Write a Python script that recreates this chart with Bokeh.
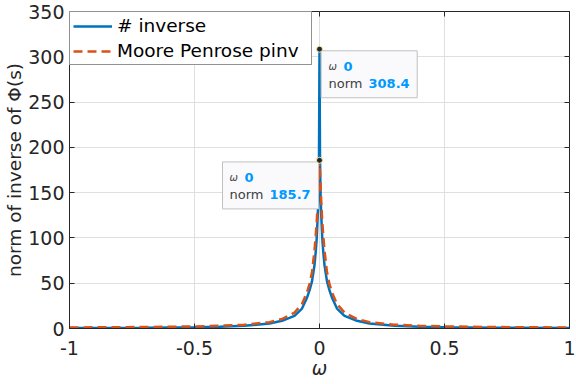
from bokeh.plotting import figure
from bokeh.models import FixedTicker, LinearAxis, Label, Legend, LegendItem, Range1d
from bokeh.embed import file_html
from bokeh.resources import INLINE

# ---------------- data ----------------
omega = [-1.0, -0.7, -0.5, -0.4, -0.3, -0.2, -0.15, -0.1, -0.07, -0.05, -0.04, -0.03,
         -0.02, -0.015, -0.011, -0.007, -0.004, -0.002, 0.0,
         0.002, 0.004, 0.007, 0.011, 0.015, 0.02, 0.03, 0.04, 0.05, 0.07, 0.1,
         0.15, 0.2, 0.3, 0.4, 0.5, 0.7, 1.0]
norm_inverse = [0.5, 0.9, 1.5, 2.0, 3.0, 5.5, 8.5, 14.0, 22.0, 34.0, 42.0, 52.0,
                70.0, 85.0, 100.0, 125.0, 150.0, 190.0, 308.4,
                190.0, 150.0, 125.0, 100.0, 85.0, 70.0, 52.0, 42.0, 34.0, 22.0, 14.0,
                8.5, 5.5, 3.0, 2.0, 1.5, 0.9, 0.5]
norm_pinv = [1.1, 1.6, 2.3, 3.0, 4.2, 7.0, 10.5, 17.5, 27.0, 40.0, 49.0, 62.0,
             86.0, 103.0, 118.0, 140.0, 160.0, 172.0, 185.7,
             172.0, 160.0, 140.0, 118.0, 103.0, 86.0, 62.0, 49.0, 40.0, 27.0, 17.5,
             10.5, 7.0, 4.2, 3.0, 2.3, 1.6, 1.1]
series_labels = ["# inverse", "Moore Penrose pinv"]
x_ticks = [-1, -0.5, 0, 0.5, 1]
x_tick_labels = ["-1", "-0.5", "0", "0.5", "1"]
y_ticks = [0, 50, 100, 150, 200, 250, 300, 350]
y_tick_labels = ["0", "50", "100", "150", "200", "250", "300", "350"]
x_label = "ω"
y_label = "norm of inverse of Φ(s)"

# ---------------- styling ----------------
FONT = "DejaVu Sans"
INK = "#262626"
BLUE = "#0072BD"
ORANGE = "#D95319"
FRAME_W, FRAME_H = 500, 317
X0, X1, Y0, Y1 = -1, 1, 0, 350
px_x = FRAME_W / (X1 - X0)
px_y = FRAME_H / (Y1 - Y0)

p = figure(width=576, height=384, x_range=Range1d(X0, X1), y_range=Range1d(Y0, Y1),
           output_backend="svg", toolbar_location=None,
           min_border_left=69, min_border_right=7, min_border_top=11, min_border_bottom=56)
p.styles = {"position": "absolute", "left": "0px", "top": "0px"}
p.background_fill_color = "white"
p.border_fill_color = "white"
p.outline_line_color = INK
p.outline_line_width = 1

for ax, ticks, labels in ((p.xaxis[0], x_ticks, x_tick_labels), (p.yaxis[0], y_ticks, y_tick_labels)):
    ax.ticker = FixedTicker(ticks=ticks)
    ax.major_label_overrides = dict(zip(ticks, labels))
    ax.major_tick_in = 5
    ax.major_tick_out = 0
    ax.minor_tick_line_color = None
    ax.axis_line_color = INK
    ax.major_tick_line_color = INK
    ax.major_label_text_color = INK
    ax.major_label_text_font = FONT
    ax.major_label_text_font_size = "19px"
    ax.axis_label_text_font = FONT
    ax.axis_label_text_font_size = "18.5px"
    ax.axis_label_text_color = INK

p.xaxis.major_label_standoff = 12
p.xaxis.axis_label = x_label
p.xaxis.axis_label_text_font_style = "italic"
p.xaxis.axis_label_standoff = 0
p.yaxis.major_label_standoff = 5
p.yaxis.axis_label = y_label
p.yaxis.axis_label_text_font_style = "normal"
p.yaxis.axis_label_standoff = 0

# inward ticks on the top and right of the box
for ticks, place in ((x_ticks, "above"), (y_ticks, "right")):
    ax = LinearAxis(ticker=FixedTicker(ticks=ticks),
                    major_label_overrides={t: "" for t in ticks},
                    major_label_text_font_size="0px", major_label_standoff=0,
                    major_tick_in=5, major_tick_out=0, minor_tick_line_color=None,
                    axis_line_color=None, major_tick_line_color=INK)
    p.add_layout(ax, place)

p.xgrid.ticker = FixedTicker(ticks=x_ticks)
p.ygrid.ticker = FixedTicker(ticks=y_ticks)
p.xgrid.grid_line_color = "#dfdfdf"
p.ygrid.grid_line_color = "#dfdfdf"

r1 = p.line(omega, norm_inverse, line_color=BLUE, line_width=2.5)
r2 = p.line(omega, norm_pinv, line_color=ORANGE, line_width=2.5, line_dash="9 5")

legend = Legend(items=[LegendItem(label=series_labels[0], renderers=[r1]),
                       LegendItem(label=series_labels[1], renderers=[r2])],
                location="top_left", margin=0, padding=3, spacing=4,
                glyph_width=39, glyph_height=20, label_height=20, label_standoff=5,
                label_width=191, label_text_font=FONT, label_text_font_size="18.5px",
                label_text_color="black", border_line_color=INK, border_line_width=1,
                background_fill_color="white", background_fill_alpha=1)
p.add_layout(legend)

# ---------------- data tips ----------------
i1 = norm_inverse.index(max(norm_inverse))
i2 = norm_pinv.index(max(norm_pinv))
tips = [(omega[i1], norm_inverse[i1], 1), (omega[i2], norm_pinv[i2], -1)]

BOX_W, BOX_H = 96, 47
for tx, ty, side in tips:
    left = 1.7 if side > 0 else -97
    cx = tx + (left + BOX_W / 2) / px_x
    cy = ty - (1.6 + BOX_H / 2) / px_y
    p.rect([cx], [cy], width=BOX_W, height=BOX_H, width_units="screen", height_units="screen",
           fill_color="#fafafc", line_color="#c0c0c0", line_width=1)

p.scatter([t[0] for t in tips], [t[1] for t in tips], size=6, fill_color=INK,
          line_color="#f4efb4", line_width=1)

for tx, ty, side in tips:
    x0 = 9 if side > 0 else -90
    common = dict(x=tx, y=ty, text_baseline="alphabetic", text_font=FONT)
    p.add_layout(Label(x_offset=x0, y_offset=-17, text="ω", text_font_size="10px",
                       text_font_style="italic", text_color="#404040", **common))
    p.add_layout(Label(x_offset=x0 + 15, y_offset=-17, text=f"{tx:g}", text_font_size="13px",
                       text_font_style="bold", text_color="#0099ff", **common))
    p.add_layout(Label(x_offset=x0, y_offset=-34, text="norm", text_font_size="13px",
                       text_color="#404040", **common))
    p.add_layout(Label(x_offset=x0 + 40, y_offset=-34, text=f"{ty:.1f}", text_font_size="13px",
                       text_font_style="bold", text_color="#0099ff", **common))

open("out.html", "w").write(file_html(p, INLINE))
